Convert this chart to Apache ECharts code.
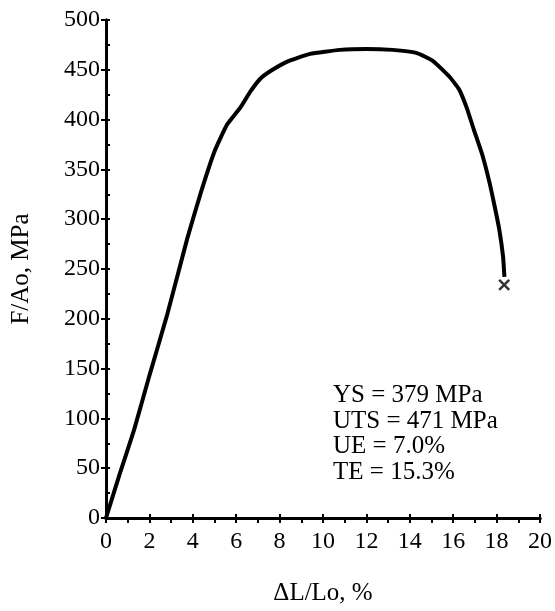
<!DOCTYPE html>
<html>
<head>
<meta charset="utf-8">
<script src="https://cdn.jsdelivr.net/npm/echarts@6/dist/echarts.min.js"></script>
<style>html,body{margin:0;padding:0;background:#fff}#c{width:555px;height:611px}</style>
</head>
<body>
<div id="c"></div>
<script>
var strain = [0, 0.6, 1.3, 2.0, 2.83, 3.75, 4.36, 5.0, 5.58, 6.19, 6.65, 7.11, 7.6, 8.33, 9.4, 10.78, 12.0, 13.2, 14.3, 15.06, 15.83, 16.28, 16.62, 16.95, 17.35, 17.66, 17.9, 18.12, 18.3, 18.36];
var stress = [0, 42, 89, 143, 205, 281, 326, 368, 395, 412, 428, 441, 449, 458, 466, 470, 471, 470, 467, 459, 443, 430, 412, 390, 364, 338, 314, 290, 262, 242];
var fracture = [[18.35, 234]];
var annotations = ['YS = 379 MPa', 'UTS = 471 MPa', 'UE = 7.0%', 'TE = 15.3%'];
var xName = 'ΔL/Lo, %';
var yName = 'F/Ao, MPa';

var font = 'Liberation Serif';
var chart = echarts.init(document.getElementById('c'));
var lineData = strain.map(function (s, i) { return [s, stress[i]]; });
var axLine = {show: true, lineStyle: {color: '#000', width: 3}};
chart.setOption({
  animation: false,
  backgroundColor: '#fff',
  grid: {left: 106, right: 12, top: 20, bottom: 88},
  xAxis: [{
    type: 'value', min: 0, max: 20, interval: 2, position: 'bottom',
    name: xName, nameLocation: 'middle', nameGap: 63,
    nameTextStyle: {fontFamily: font, fontSize: 25, color: '#000'},
    axisLine: axLine,
    axisTick: {show: true, inside: false, length: 5, lineStyle: {color: '#000', width: 2}},
    minorTick: {show: true, splitNumber: 2, length: 5, lineStyle: {color: '#000', width: 2}},
    axisLabel: {fontFamily: font, fontSize: 24, color: '#000', margin: 12},
    splitLine: {show: false}
  }, {
    type: 'value', min: 0, max: 20, interval: 2, position: 'top',
    axisLine: axLine,
    axisTick: {show: true, inside: false, length: 4, lineStyle: {color: '#000', width: 2}},
    axisLabel: {show: false}, splitLine: {show: false}
  }],
  yAxis: [{
    type: 'value', min: 0, max: 500, interval: 50, position: 'left',
    name: yName, nameLocation: 'middle', nameGap: 72, nameRotate: 90,
    nameTextStyle: {fontFamily: font, fontSize: 25, color: '#000'},
    axisLine: axLine,
    axisTick: {show: true, inside: false, length: 5, lineStyle: {color: '#000', width: 2}},
    axisLabel: {fontFamily: font, fontSize: 24, color: '#000', margin: 6},
    splitLine: {show: false}
  }, {
    type: 'value', min: 0, max: 500, interval: 25, position: 'right',
    axisLine: axLine,
    axisTick: {show: true, inside: false, length: 4, lineStyle: {color: '#000', width: 2}},
    axisLabel: {show: false}, splitLine: {show: false}
  }],
  graphic: annotations.map(function (t, i) {
    return {type: 'text', left: 333, top: 383 + i * 25.5,
      style: {text: t, fontFamily: font, fontSize: 25, fill: '#000'}};
  }),
  series: [{
    type: 'line', data: lineData, smooth: 0.15, symbol: 'none',
    lineStyle: {color: '#000', width: 4}
  }, {
    type: 'scatter', data: fracture,
    symbol: 'path://M0,0L10,10M10,0L0,10', symbolSize: 10,
    itemStyle: {color: 'none', borderColor: '#000', borderWidth: 2.5}
  }]
});
</script>
</body>
</html>
